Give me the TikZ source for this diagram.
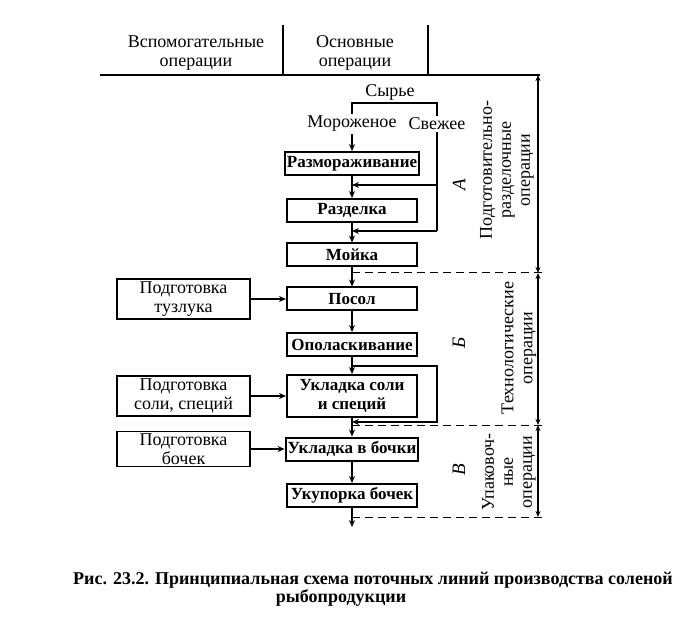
\documentclass[tikz,border=0pt]{standalone}
\usepackage{fontspec}
\setmainfont{Liberation Serif}
\usetikzlibrary{positioning, arrows.meta, calc}

\tikzset{
    txt/.style={font=\fontsize{9}{9.5}\selectfont, align=center, inner sep=1pt},
    opbox/.style={draw, line width=1pt, minimum width=65pt, minimum height=11.5pt,
        inner sep=1pt, font=\bfseries\fontsize{8.5}{9.5}\selectfont, align=center},
    auxbox/.style={draw, line width=0.8pt, minimum width=66.5pt, minimum height=20pt,
        inner sep=1pt, font=\fontsize{9}{9.5}\selectfont, align=center},
    flow/.style={line width=0.8pt, -{Stealth[length=3.5pt, width=3pt]}},
    line/.style={line width=0.8pt},
    dim/.style={line width=0.6pt, {Stealth[length=3pt, width=2.5pt]}-{Stealth[length=3pt, width=2.5pt]}},
    sect/.style={line width=0.5pt, dash pattern=on 4pt off 2.5pt},
}

\begin{document}
\begin{tikzpicture}[x=0.5pt, y=-0.5pt]
    \useasboundingbox (0, 0) rectangle (680, 620);

    % header
    \draw[line width=1pt] (100, 75) -- (540, 75);
    \draw[line width=1pt] (283, 25) -- (283, 75);
    \draw[line width=1pt] (428, 25) -- (428, 75);
    \node[txt] (aux) at (196, 53) {Вспомогательные\\операции};
    \node[txt] (main) at (355, 53) {Основные\\операции};

    % raw material
    \node[txt] (raw) at (390, 92) {Сырье};
    \node[txt] (frozen) at (352, 124) {Мороженое};
    \node[txt] (fresh) at (437, 124) {Свежее};
    \coordinate (rawL) at (352, 103);
    \coordinate (rawR) at (437, 103);

    % main operations
    \node[opbox] (thaw) at (352, 163.5) {Размораживание};
    \node[opbox] (cut) at (352, 210.5) {Разделка};
    \node[opbox] (wash) at (352, 255) {Мойка};
    \node[opbox] (salt) at (352, 299) {Посол};
    \node[opbox] (rinse) at (352, 344.5) {Ополаскивание};
    \node[opbox, minimum height=21pt] (spice) at (352, 396) {Укладка соли\\и специй};
    \node[opbox] (barrel) at (352, 449) {Укладка в бочки};
    \node[opbox] (seal) at (352, 495.5) {Укупорка бочек};
    \coordinate (out) at (352, 527);

    % auxiliary operations
    \node[auxbox] (brine) at (183.5, 299) {Подготовка\\тузлука};
    \node[auxbox] (spices) at (183.5, 396) {Подготовка\\соли, специй};
    \node[auxbox, minimum height=17pt] (barrels) at (183.5, 449) {Подготовка\\бочек};

    % flow
    \draw[line] (frozen.north) -- (rawL) -- (rawR) -- (fresh.north);
    \draw[flow] (frozen) -- (thaw);
    \draw[flow] (thaw) -- (cut);
    \draw[flow] (cut) -- (wash);
    \draw[flow] (wash) -- (salt);
    \draw[flow] (salt) -- (rinse);
    \draw[flow] (rinse) -- (spice);
    \draw[flow] (spice) -- (barrel);
    \draw[flow] (barrel) -- (seal);
    \draw[flow] (seal) -- (out);

    \coordinate (fr1) at (437, 185);
    \coordinate (fr2) at (437, 231);
    \draw[line] (fresh.south) -- (fr2);
    \draw[flow] (fr1) -- (fr1 -| thaw);
    \draw[flow] (fr2) -- (fr2 -| cut);

    \coordinate (by1) at (437, 366);
    \coordinate (by2) at (437, 422);
    \draw[flow] (by1 -| rinse) -- (by1) -- (by2) -- (by2 -| spice);

    \draw[flow] (brine) -- (salt);
    \draw[flow] (spices) -- (spice);
    \draw[flow] (barrels) -- (barrel);

    % sections
    \draw[sect] (352, 273) -- (546, 273);
    \draw[sect] (352, 425) -- (546, 425);
    \draw[sect] (352, 517) -- (546, 517);
    \coordinate (s0) at (538, 75);
    \coordinate (s1) at (538, 273);
    \coordinate (s2) at (538, 425);
    \coordinate (s3) at (538, 517);
    \draw[dim] (s0) -- (s1);
    \draw[dim] (s1) -- (s2);
    \draw[dim] (s2) -- (s3);

    \node[txt, rotate=90, font=\itshape\fontsize{9.5}{10}\selectfont] (secA) at (459, 185) {А};
    \node[txt, rotate=90, font=\itshape\fontsize{9.5}{10}\selectfont] (secB) at (459, 343) {Б};
    \node[txt, rotate=90, font=\itshape\fontsize{9.5}{10}\selectfont] (secC) at (459, 470) {В};
    \node[txt, rotate=90] (prep) at (507, 170) {Подготовительно-\\разделочные\\операции};
    \node[txt, rotate=90] (tech) at (519, 348) {Технологические\\операции};
    \node[txt, rotate=90] (pack) at (509, 472) {Упаковоч-\\ные\\операции};

    % caption
    \node[txt, font=\bfseries\fontsize{9}{10}\selectfont] (cap1) at (373, 580)
        {Рис. 23.2. Принципиальная схема поточных линий производства соленой};
    \node[txt, font=\bfseries\fontsize{9}{10}\selectfont] (cap2) at (341, 598) {рыбопродукции};
\end{tikzpicture}
\end{document}
